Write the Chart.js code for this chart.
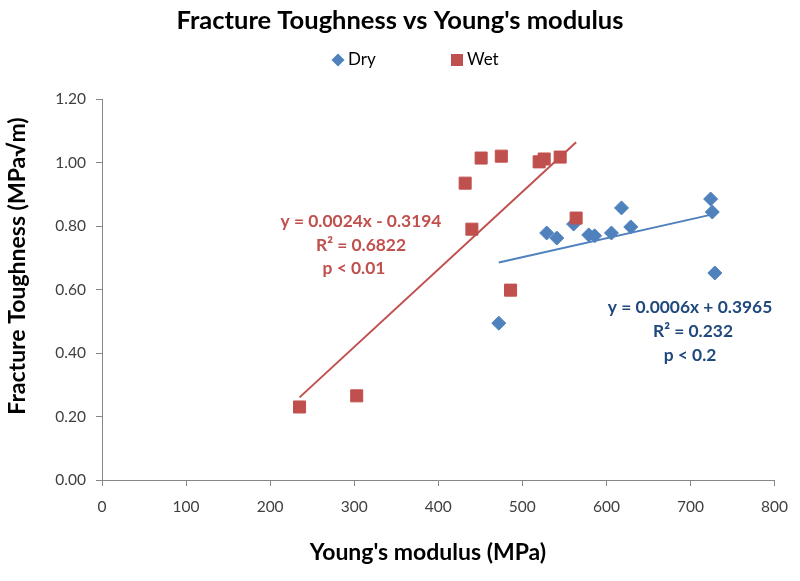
<!DOCTYPE html>
<html>
<head>
<meta charset="utf-8">
<script src="https://cdn.jsdelivr.net/npm/chart.js@4.4.1/dist/chart.umd.min.js"></script>
<style>
  body { margin: 0; background: #fff; }
  #wrap { width: 800px; height: 581px; }
</style>
</head>
<body>
<div id="wrap"><canvas id="myChart" width="800" height="581"></canvas></div>
<script>
const chartTitle = "Fracture Toughness vs Young's modulus"
const xTitle = "Young's modulus (MPa)"
const yTitle = 'Fracture Toughness (MPa\u221Am)'
const seriesNames = ['Dry', 'Wet']

// valores
const dryModulus = [472, 529, 541, 561, 579, 586, 606, 618, 629, 724, 726, 729]
const dryToughness = [0.494, 0.778, 0.762, 0.806, 0.772, 0.769, 0.778, 0.857, 0.797, 0.885, 0.844, 0.652]
const wetModulus = [235, 303, 432, 440, 451, 475, 486, 520, 526, 545, 564]
const wetToughness = [0.230, 0.265, 0.935, 0.790, 1.014, 1.020, 0.598, 1.002, 1.011, 1.017, 0.825]

const dryFitText = ['y = 0.0006x + 0.3965', 'R\u00B2 = 0.232', 'p < 0.2']
const wetFitText = ['y = 0.0024x - 0.3194', 'R\u00B2 = 0.6822', 'p < 0.01']

const xMin = 0, xMax = 800, xStep = 100
const yMin = 0, yMax = 1.2, yStep = 0.2

const azul = '#4F81BD'
const rojo = '#C0504D'
const azulTexto = '#1F497D'
const gris = '#868686'
const fuente = 'Lato, "Open Sans", sans-serif'

const _toPoints = (xs, ys) => xs.map((x, i) => ({ x, y: ys[i] }))

// recta de minimos cuadrados entre el x minimo y el maximo
const _fitLine = (xs, ys) => {
  const n = xs.length
  const mx = xs.reduce((a, b) => a + b, 0) / n
  const my = ys.reduce((a, b) => a + b, 0) / n
  let sxy = 0, sxx = 0
  xs.forEach((x, i) => {
    sxy += (x - mx) * (ys[i] - my)
    sxx += (x - mx) * (x - mx)
  })
  const slope = sxy / sxx
  const intercept = my - slope * mx
  const x0 = Math.min(...xs), x1 = Math.max(...xs)
  return [{ x: x0, y: slope * x0 + intercept }, { x: x1, y: slope * x1 + intercept }]
}

const textos = {
  id: 'textos',
  afterDraw(chart) {
    const ctx = chart.ctx
    ctx.save()
    ctx.textBaseline = 'middle'
    ctx.textAlign = 'center'

    ctx.fillStyle = '#000'
    ctx.font = 'bold 25.5px ' + fuente
    ctx.fillText(chartTitle, 400, 21)

    // leyenda
    ctx.fillStyle = azul
    ctx.beginPath()
    ctx.moveTo(331.5, 60)
    ctx.lineTo(338, 53.5)
    ctx.lineTo(344.5, 60)
    ctx.lineTo(338, 66.5)
    ctx.closePath()
    ctx.fill()
    ctx.fillStyle = rojo
    ctx.fillRect(451, 54, 12, 12)
    ctx.fillStyle = '#000'
    ctx.font = '17px ' + fuente
    ctx.textAlign = 'left'
    ctx.fillText(seriesNames[0], 348, 60)
    ctx.fillText(seriesNames[1], 467, 60)

    // titulos de ejes
    ctx.textAlign = 'center'
    ctx.font = 'bold 23px ' + fuente
    ctx.fillText(xTitle, 428, 553)
    ctx.save()
    ctx.translate(18, 266)
    ctx.rotate(-Math.PI / 2)
    ctx.fillText(yTitle, 0, 0)
    ctx.restore()

    // ecuaciones
    ctx.font = 'bold 17.4px ' + fuente
    ctx.fillStyle = rojo
    ctx.fillText(wetFitText[0], 361, 221)
    ctx.fillText(wetFitText[1], 361, 245)
    ctx.fillText(wetFitText[2], 354, 268)
    ctx.fillStyle = azulTexto
    ctx.fillText(dryFitText[0], 690, 307)
    ctx.fillText(dryFitText[1], 693, 331)
    ctx.fillText(dryFitText[2], 690, 355)
    ctx.restore()
  }
}

const ctx = document.getElementById('myChart').getContext('2d')
const myChart = new Chart(ctx, {
  type: 'scatter',
  data: {
    datasets: [
      {
        type: 'line',
        label: 'Dry trend',
        data: _fitLine(dryModulus, dryToughness),
        borderColor: azul,
        borderWidth: 2,
        pointRadius: 0,
        order: 0,
      },
      {
        type: 'line',
        label: 'Wet trend',
        data: _fitLine(wetModulus, wetToughness),
        borderColor: rojo,
        borderWidth: 2,
        pointRadius: 0,
        order: 0,
      },
      {
        label: seriesNames[1],
        data: _toPoints(wetModulus, wetToughness),
        pointStyle: 'rect',
        pointRadius: 8.5,
        backgroundColor: rojo,
        borderColor: rojo,
        borderWidth: 1,
        order: 1,
      },
      {
        label: seriesNames[0],
        data: _toPoints(dryModulus, dryToughness),
        pointStyle: 'rectRot',
        pointRadius: 7,
        backgroundColor: azul,
        borderColor: azul,
        borderWidth: 1,
        order: 2,
      },
    ],
  },
  options: {
    responsive: false,
    animation: false,
    layout: { padding: { top: 99, right: 24, bottom: 0, left: 0 } },
    plugins: {
      legend: { display: false },
      title: { display: false },
      tooltip: { enabled: false },
    },
    scales: {
      x: {
        type: 'linear',
        min: xMin,
        max: xMax,
        afterFit: (scale) => { scale.height = 101 },
        ticks: {
          stepSize: xStep,
          padding: 12,
          color: '#404040',
          font: { family: fuente, size: 15.5 },
          maxRotation: 0,
        },
        grid: { drawOnChartArea: false, drawTicks: true, tickLength: 6, color: gris },
        border: { color: gris, width: 1 },
      },
      y: {
        type: 'linear',
        min: yMin,
        max: yMax,
        afterFit: (scale) => { scale.width = 102 },
        ticks: {
          stepSize: yStep,
          padding: 10,
          color: '#404040',
          font: { family: fuente, size: 15.5 },
          callback: (v) => v.toFixed(2),
        },
        grid: { drawOnChartArea: false, drawTicks: true, tickLength: 6, color: gris },
        border: { color: gris, width: 1 },
      },
    },
  },
  plugins: [textos],
})
</script>
</body>
</html>
